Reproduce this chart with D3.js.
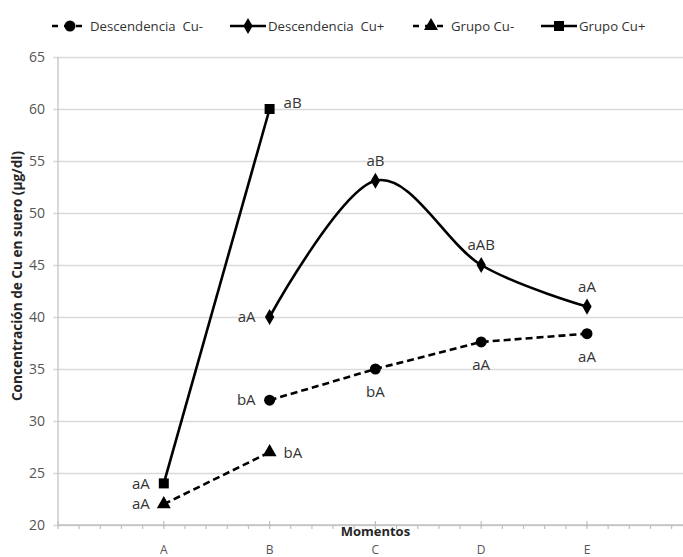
<!DOCTYPE html>
<html>
<head>
<meta charset="utf-8">
<script src="https://cdn.jsdelivr.net/npm/d3@7"></script>
<style>
  html, body { margin: 0; padding: 0; background: #fff; }
  svg { display: block; font-family: "Open Sans", "DejaVu Sans", sans-serif; }
  .legend-text { white-space: pre; }
</style>
</head>
<body>
<svg id="chart" width="683" height="557"></svg>
<script>
// Sampling moments (category axis)
const moments = ["A", "B", "C", "D", "E"];

// Serum Cu concentration (µg/dl) per group; null = not measured
const descCuMinus = [null, 32.0, 35.0, 37.6, 38.4];
const descCuPlus  = [null, 40.0, 53.1, 45.0, 41.0];
const grupoCuMinus = [22.0, 27.0, null, null, null];
const grupoCuPlus  = [24.0, 60.0, null, null, null];

// Significance letters written next to each point
const descCuMinusLabels = [null, "bA", "bA", "aA", "aA"];
const descCuPlusLabels  = [null, "aA", "aB", "aAB", "aA"];
const grupoCuMinusLabels = ["aA", "bA", null, null, null];
const grupoCuPlusLabels  = ["aA", "aB", null, null, null];

const yTicks = [20, 25, 30, 35, 40, 45, 50, 55, 60, 65];

const svg = d3.select("#chart");

// Category positions 1..5 on a 0..6 axis so the plot keeps a slot of margin on each side
const x = d3.scaleLinear().domain([0, 6]).range([58, 692.8]);
const y = d3.scaleLinear().domain([20, 65]).range([525, 57]);

const gridColor = "#d9d9d9";
const axisColor = "#bfbfbf";
const textColor = "#333333";

// Horizontal gridlines with short outward ticks
const yAxis = d3.axisLeft(y).tickValues(yTicks).tickSize(-(x(6) - x(0))).tickPadding(13).tickSizeOuter(0);
const gy = svg.append("g").attr("transform", `translate(${x(0)},0)`).call(yAxis);
gy.select(".domain").remove();
gy.selectAll(".tick line").attr("stroke", gridColor).attr("stroke-width", 1.3).attr("x1", -5);
gy.selectAll(".tick text").attr("fill", "#555555").style("font-size", "14px")
  .style("font-family", "'Open Sans', sans-serif");

// Vertical axis line
svg.append("line").attr("x1", x(0)).attr("x2", x(0)).attr("y1", y(65)).attr("y2", y(20))
  .attr("stroke", axisColor).attr("stroke-width", 1.2);

// Horizontal axis: minor ticks below, major ticks crossing at each moment
const gx = svg.append("g").attr("transform", `translate(0,${y(20)})`);
gx.append("line").attr("x1", x(0)).attr("x2", x(6)).attr("stroke", axisColor).attr("stroke-width", 1.3);
const minor = d3.range(0, 6.0001, 0.2);
gx.selectAll("line.minor").data(minor).join("line").attr("class", "minor")
  .attr("x1", d => x(d)).attr("x2", d => x(d)).attr("y1", 0).attr("y2", 4)
  .attr("stroke", axisColor).attr("stroke-width", 1.2);
gx.selectAll("line.major").data(d3.range(0, 7)).join("line").attr("class", "major")
  .attr("x1", d => x(d)).attr("x2", d => x(d)).attr("y1", -4).attr("y2", 2)
  .attr("stroke", axisColor).attr("stroke-width", 1.2);
gx.selectAll("text.cat").data(moments).join("text").attr("class", "cat")
  .attr("x", (d, i) => x(i + 1)).attr("y", 28.5).attr("text-anchor", "middle")
  .attr("fill", "#555555").style("font-size", "12px").text(d => d);

// Axis titles
svg.append("text").attr("x", x(3)).attr("y", 535.5).attr("text-anchor", "middle")
  .style("font-size", "13px").style("font-weight", "bold").attr("fill", "#262626").text("Momentos");
svg.append("text").attr("transform", "translate(22,276) rotate(-90)").attr("text-anchor", "middle")
  .style("font-size", "13.6px").style("font-weight", "bold").attr("fill", "#262626")
  .text("Concentración de Cu en suero (µg/dl)");

// Marker shapes
const markers = {
  circle: d3.symbol().type(d3.symbolCircle).size(95),
  diamond: d3.symbol().type(d3.symbolDiamond).size(75),
  triangle: d3.symbol().type(d3.symbolTriangle).size(85),
  square: d3.symbol().type(d3.symbolSquare).size(100)
};

const series = [
  { name: "Descendencia  Cu-", values: descCuMinus, labels: descCuMinusLabels, dash: "7,4", marker: "circle", smooth: false,
    pos: ["", "left", "below", "below", "below"] },
  { name: "Descendencia  Cu+", values: descCuPlus, labels: descCuPlusLabels, dash: null, marker: "diamond", smooth: true,
    pos: ["", "left", "above", "above", "above"] },
  { name: "Grupo Cu-", values: grupoCuMinus, labels: grupoCuMinusLabels, dash: "7,4", marker: "triangle", smooth: false,
    pos: ["left", "right", "", "", ""] },
  { name: "Grupo Cu+", values: grupoCuPlus, labels: grupoCuPlusLabels, dash: null, marker: "square", smooth: false,
    pos: ["left", "upright", "", "", ""] }
];

const dxFor = pos => pos === "left" ? -14 : (pos === "right" || pos === "upright") ? 14 : 0;
const dyFor = pos => pos === "above" ? -20 : pos === "below" ? 23 : pos === "upright" ? -6 : pos === "right" ? 1 : 0;
const anchorFor = pos => pos === "left" ? "end" : (pos === "right" || pos === "upright") ? "start" : "middle";

series.forEach(s => {
  const pts = s.values.map((v, i) => ({ i, v, label: s.labels[i], pos: s.pos[i] })).filter(p => p.v !== null);
  const line = d3.line().x(p => x(p.i + 1)).y(p => y(p.v))
    .curve(s.smooth ? d3.curveCardinal.tension(0) : d3.curveLinear);
  svg.append("path").datum(pts).attr("d", line).attr("fill", "none")
    .attr("stroke", "#000").attr("stroke-width", 2.6)
    .attr("stroke-dasharray", s.dash).attr("stroke-linejoin", "round");
  svg.selectAll(null).data(pts).join("path")
    .attr("transform", p => `translate(${x(p.i + 1)},${y(p.v)})`)
    .attr("d", markers[s.marker]).attr("fill", "#000");
  svg.selectAll(null).data(pts).join("text")
    .attr("x", p => x(p.i + 1) + dxFor(p.pos))
    .attr("y", p => y(p.v) + dyFor(p.pos))
    .attr("dy", "0.35em")
    .attr("text-anchor", p => anchorFor(p.pos))
    .attr("fill", textColor).style("font-size", "15px").text(p => p.label);
});

// Legend
const legendItems = [
  { s: series[0], x0: 52 },
  { s: series[1], x0: 230 },
  { s: series[2], x0: 413 },
  { s: series[3], x0: 541 }
];
const lg = svg.append("g").attr("transform", "translate(0,26)");
legendItems.forEach(it => {
  lg.append("line").attr("x1", it.x0).attr("x2", it.x0 + 36).attr("y1", 0).attr("y2", 0)
    .attr("stroke", "#000").attr("stroke-width", 2.6).attr("stroke-dasharray", it.s.dash ? "6,6" : null);
  lg.append("path").attr("transform", `translate(${it.x0 + 18},0)`).attr("d", markers[it.s.marker]).attr("fill", "#000");
  lg.append("text").attr("class", "legend-text").attr("x", it.x0 + 38).attr("y", 0).attr("dy", "0.35em")
    .attr("fill", textColor).style("font-size", "13.2px").text(it.s.name);
});
</script>
</body>
</html>
